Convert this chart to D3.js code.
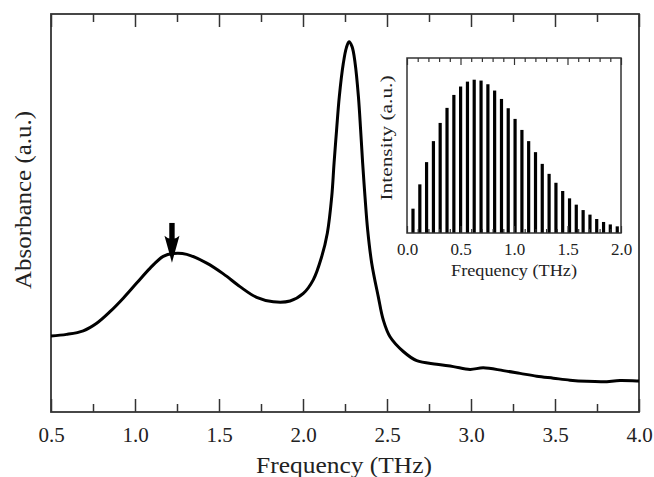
<!DOCTYPE html>
<html>
<head>
<meta charset="utf-8">
<script src="https://cdn.jsdelivr.net/npm/d3@7"></script>
<style>
  html, body { margin: 0; padding: 0; background: #fff; }
  svg { display: block; }
  text { font-family: "Liberation Serif", "Times New Roman", serif; fill: #222; }
</style>
</head>
<body>
<svg id="chart" width="654" height="477"></svg>
<script>
// ---- Main spectrum (frequency in THz, absorbance in a.u.) ----
const absFreq = [0.50, 0.593, 0.692, 0.772, 0.851, 0.930, 1.010, 1.089, 1.168, 1.228, 1.308, 1.427, 1.526, 1.625, 1.724, 1.823, 1.923, 2.002, 2.061, 2.111, 2.145, 2.171, 2.185, 2.20, 2.216, 2.24, 2.258, 2.274, 2.292, 2.31, 2.33, 2.343, 2.355, 2.369, 2.385, 2.409, 2.448, 2.478, 2.518, 2.597, 2.677, 2.796, 2.895, 2.994, 3.073, 3.192, 3.292, 3.391, 3.49, 3.589, 3.689, 3.788, 3.887, 3.987, 4.0];
const absValue = [1.91, 1.95, 2.04, 2.23, 2.52, 2.86, 3.24, 3.61, 3.91, 3.98, 3.96, 3.74, 3.47, 3.15, 2.88, 2.77, 2.79, 2.98, 3.32, 3.90, 4.50, 5.41, 6.26, 7.09, 7.92, 8.76, 9.15, 9.30, 9.18, 8.77, 7.92, 7.09, 6.26, 5.41, 4.57, 3.74, 2.90, 2.31, 1.89, 1.52, 1.29, 1.20, 1.14, 1.07, 1.11, 1.04, 0.97, 0.90, 0.85, 0.80, 0.77, 0.76, 0.79, 0.78, 0.78];
const mainXTicks = [0.5, 1.0, 1.5, 2.0, 2.5, 3.0, 3.5, 4.0];
const mainXMinor = [0.75, 1.25, 1.75, 2.25, 2.75, 3.25, 3.75];
const arrowFreq = 1.22, arrowTop = 4.75, arrowTip = 3.75;

// ---- Inset pulse spectrum ----
const insetFreq = [0.056, 0.120, 0.183, 0.247, 0.310, 0.374, 0.438, 0.501, 0.565, 0.628, 0.692, 0.756, 0.819, 0.883, 0.946, 1.010, 1.074, 1.137, 1.201, 1.264, 1.328, 1.392, 1.455, 1.519, 1.582, 1.646, 1.710, 1.773, 1.837, 1.900, 1.965];
const insetIntensity = [0.139, 0.278, 0.405, 0.525, 0.629, 0.715, 0.789, 0.837, 0.865, 0.876, 0.871, 0.850, 0.814, 0.766, 0.713, 0.652, 0.589, 0.525, 0.462, 0.395, 0.338, 0.287, 0.240, 0.198, 0.162, 0.131, 0.105, 0.080, 0.063, 0.049, 0.038];
const insetXTicks = [0.0, 0.5, 1.0, 1.5, 2.0];
const insetXMinor = [0.1,0.2,0.3,0.4,0.6,0.7,0.8,0.9,1.1,1.2,1.3,1.4,1.6,1.7,1.8,1.9];

const svg = d3.select("#chart");
const frameColor = "#333";

// ===== Main plot =====
const M = { left: 51, right: 639, top: 14, bottom: 412 };
const x = d3.scaleLinear().domain([0.5, 4.0]).range([M.left, M.right]);
const y = d3.scaleLinear().domain([0, 10]).range([M.bottom, M.top]);

const gMain = svg.append("g");
const bottomAxis = d3.axisBottom(x).tickValues(mainXTicks).tickFormat(d3.format(".1f")).tickSizeInner(-13).tickSizeOuter(0).tickPadding(28);
const gb = gMain.append("g").attr("transform", `translate(0,${M.bottom})`).call(bottomAxis);
gb.select(".domain").remove();
gb.selectAll(".tick line").attr("stroke", frameColor).attr("stroke-width", 1.5);
gb.selectAll(".tick text").attr("font-size", 21).attr("font-family", "Liberation Serif").attr("fill", "#222").attr("dy", "0.1em");
gMain.append("g").attr("transform", `translate(0,${M.bottom})`)
  .call(d3.axisBottom(x).tickValues(mainXMinor).tickFormat("").tickSizeInner(-8).tickSizeOuter(0))
  .call(g => g.select(".domain").remove())
  .selectAll(".tick line").attr("stroke", frameColor).attr("stroke-width", 1.5);
gMain.append("g").attr("transform", `translate(0,${M.top})`)
  .call(d3.axisTop(x).tickValues(mainXTicks).tickFormat("").tickSizeInner(-13).tickSizeOuter(0))
  .call(g => g.select(".domain").remove())
  .selectAll(".tick line").attr("stroke", frameColor).attr("stroke-width", 1.5);
gMain.append("g").attr("transform", `translate(0,${M.top})`)
  .call(d3.axisTop(x).tickValues(mainXMinor).tickFormat("").tickSizeInner(-8).tickSizeOuter(0))
  .call(g => g.select(".domain").remove())
  .selectAll(".tick line").attr("stroke", frameColor).attr("stroke-width", 1.5);
gMain.append("rect").attr("x", M.left).attr("y", M.top).attr("width", M.right - M.left).attr("height", M.bottom - M.top)
  .attr("fill", "none").attr("stroke", frameColor).attr("stroke-width", 1.8);

// curve
const absData = absFreq.map((f, i) => [f, absValue[i]]);
gMain.append("path").datum(absData)
  .attr("fill", "none").attr("stroke", "#000").attr("stroke-width", 3).attr("stroke-linejoin", "round")
  .attr("d", d3.line().x(d => x(d[0])).y(d => y(d[1])).curve(d3.curveCatmullRom.alpha(0.5)));

// arrow
const ax = x(arrowFreq), ay0 = y(arrowTop), ayTip = y(arrowTip);
gMain.append("rect").attr("x", ax - 2.7).attr("y", ay0).attr("width", 5.4).attr("height", (ayTip - ay0) - 18).attr("fill", "#000");
gMain.append("path")
  .attr("d", `M${ax},${ayTip} L${ax - 7.5},${ayTip - 27} Q${ax},${ayTip - 20} ${ax + 7.5},${ayTip - 27} Z`)
  .attr("fill", "#000");

// labels
svg.append("text").attr("x", (M.left + M.right) / 2 - 1).attr("y", 473).attr("text-anchor", "middle")
  .attr("font-size", 24).attr("textLength", 176).attr("lengthAdjust", "spacingAndGlyphs").text("Frequency (THz)");
svg.append("text").attr("transform", `translate(31,200) rotate(-90)`).attr("text-anchor", "middle")
  .attr("font-size", 24).attr("textLength", 178).attr("lengthAdjust", "spacingAndGlyphs").text("Absorbance (a.u.)");

// ===== Inset =====
const I = { left: 407, right: 621, top: 58, bottom: 233 };
const xi = d3.scaleLinear().domain([0, 2]).range([I.left, I.right]);
const yi = d3.scaleLinear().domain([0, 1]).range([I.bottom, I.top]);
const gIn = svg.append("g");
gIn.append("rect").attr("x", I.left).attr("y", I.top).attr("width", I.right - I.left).attr("height", I.bottom - I.top)
  .attr("fill", "#fff").attr("stroke", "none");

gIn.selectAll("rect.bar").data(insetFreq.map((f, i) => [f, insetIntensity[i]])).enter().append("rect")
  .attr("class", "bar")
  .attr("x", d => xi(d[0]) - 1.6).attr("width", 3.2)
  .attr("y", d => yi(d[1])).attr("height", d => yi(0) - yi(d[1]))
  .attr("fill", "#000");

const gib = gIn.append("g").attr("transform", `translate(0,${I.bottom})`)
  .call(d3.axisBottom(xi).tickValues(insetXTicks).tickFormat(d3.format(".1f")).tickSizeInner(-7).tickSizeOuter(0).tickPadding(10));
gib.select(".domain").remove();
gib.selectAll(".tick line").attr("stroke", frameColor).attr("stroke-width", 1.2);
gib.selectAll(".tick text").attr("font-size", 17).attr("font-family", "Liberation Serif").attr("fill", "#222");
gIn.append("g").attr("transform", `translate(0,${I.bottom})`)
  .call(d3.axisBottom(xi).tickValues(insetXMinor).tickFormat("").tickSizeInner(-4).tickSizeOuter(0))
  .call(g => g.select(".domain").remove())
  .selectAll(".tick line").attr("stroke", frameColor).attr("stroke-width", 1.2);
gIn.append("g").attr("transform", `translate(0,${I.top})`)
  .call(d3.axisTop(xi).tickValues(insetXTicks).tickFormat("").tickSizeInner(-7).tickSizeOuter(0))
  .call(g => g.select(".domain").remove())
  .selectAll(".tick line").attr("stroke", frameColor).attr("stroke-width", 1.2);
gIn.append("g").attr("transform", `translate(0,${I.top})`)
  .call(d3.axisTop(xi).tickValues(insetXMinor).tickFormat("").tickSizeInner(-4).tickSizeOuter(0))
  .call(g => g.select(".domain").remove())
  .selectAll(".tick line").attr("stroke", frameColor).attr("stroke-width", 1.2);
gIn.append("rect").attr("x", I.left).attr("y", I.top).attr("width", I.right - I.left).attr("height", I.bottom - I.top)
  .attr("fill", "none").attr("stroke", frameColor).attr("stroke-width", 1.5);

svg.append("text").attr("x", (I.left + I.right) / 2).attr("y", 276).attr("text-anchor", "middle")
  .attr("font-size", 17).attr("textLength", 126).attr("lengthAdjust", "spacingAndGlyphs").text("Frequency (THz)");
svg.append("text").attr("transform", `translate(392,138) rotate(-90)`).attr("text-anchor", "middle")
  .attr("font-size", 17).attr("textLength", 125).attr("lengthAdjust", "spacingAndGlyphs").text("Intensity (a.u.)");
</script>
</body>
</html>
